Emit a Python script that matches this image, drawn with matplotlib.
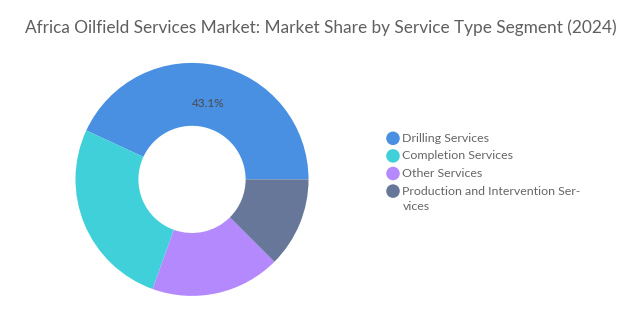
import numpy as np
import matplotlib.pyplot as plt

# Market share by service type (percent)
segments = ['Drilling Services', 'Completion Services', 'Other Services',
            'Production and Intervention Ser-\nvices']
shares = [43.1, 26.4, 18.0, 12.5]
colors = ['#4A90E2', '#3FD0DA', '#B589FE', '#667799']

plt.rcParams['font.family'] = ['Lato', 'DejaVu Sans']

W, H = 641, 325
fig = plt.figure(figsize=(W / 100, H / 100), dpi=100)
fig.text(0.5, 0.915, 'Africa Oilfield Services Market: Market Share by Service Type Segment (2024)',
         ha='center', va='center', fontsize=12.4, color='#5f5f5f')

# donut
ax = fig.add_axes([0.1178, 0.0895, 0.3635, 0.717])
wedges, _ = ax.pie(shares, colors=colors, startangle=0, counterclock=True,
                   radius=1, wedgeprops=dict(width=0.54, edgecolor='none'))
ax.set_xlim(-1, 1)
ax.set_ylim(-1, 1)
ax.set_aspect('equal')

# only the largest slice carries a label
mid = np.deg2rad(shares[0] / 100 * 360 / 2)
r = 0.665
ax.text(r * np.cos(mid), r * np.sin(mid), f'{shares[0]}%',
        ha='center', va='center', fontsize=8.5, color='#4a4a4a')

# legend laid out in pixel coordinates
lax = fig.add_axes([0, 0, 1, 1])
lax.set_xlim(0, W)
lax.set_ylim(H, 0)
lax.axis('off')
y = 138.3
for label, c in zip(segments, colors):
    lax.scatter(393, y, s=95, color=c, edgecolors='none')
    for i, line in enumerate(label.split('\n')):
        lax.text(402.5, y + 15 * i, line, ha='left', va='center',
                 fontsize=8.9, color='#666666')
    y += 17.6

plt.savefig('out.png', dpi=100)
